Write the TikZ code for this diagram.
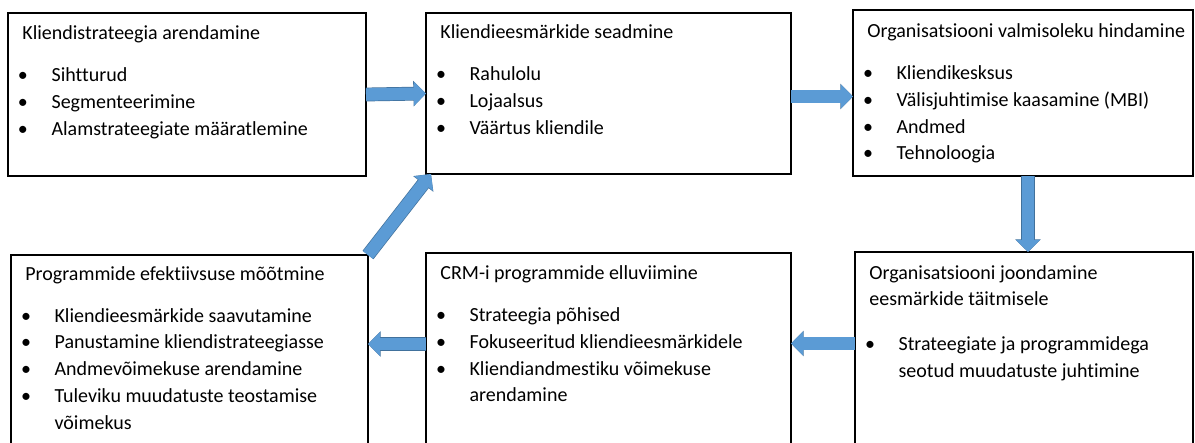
\documentclass[tikz,border=0pt]{standalone}
\usepackage{fontspec}
\setmainfont{Carlito}[Ligatures=NoCommon]
\usetikzlibrary{arrows.meta}
\definecolor{arrowblue}{HTML}{5B9BD5}
\definecolor{arrowedge}{HTML}{41719C}

% bullet with a fixed indent, and the matching indent for wrapped lines
\newcommand{\bul}{\makebox[14.6pt][l]{\hspace{-2.2pt}\textbullet}}
\newcommand{\hang}{\hspace*{14.6pt}}
\newcommand{\boxbody}[1]{\parbox[t]{200pt}{\raggedright #1}}

\begin{document}
\begin{tikzpicture}[x=0.5pt,y=-0.5pt,
  box/.style={draw=black, line width=0.6pt, anchor=north west,
              inner sep=0pt, outer sep=0pt},
  boxtext/.style={anchor=base west, inner sep=0pt,
                  font=\fontsize{10}{13.4}\selectfont},
  flow/.style={line width=6.2pt, draw=arrowblue,
               -{Triangle[length=6pt,width=11.5pt]},
               preaction={draw=arrowedge, line width=6.9pt,
                          -{Triangle[length=6.3pt,width=12.4pt]}}}
]
\useasboundingbox (0,0) rectangle (1195,443);
\clip (0,0) rectangle (1195,443);
\fill[white] (0,0) rectangle (1195,443);

% stage boxes
\node[box, minimum width=179pt,   minimum height=81.5pt] (b1) at (8,13)    {};
\node[box, minimum width=182.5pt, minimum height=80.5pt] (b2) at (426,13)  {};
\node[box, minimum width=170pt,   minimum height=83pt]   (b3) at (853,10)  {};
\node[box, minimum width=178.5pt, minimum height=99pt]   (b4) at (11,255)  {};
\node[box, minimum width=182.5pt, minimum height=100pt]  (b5) at (426,253) {};
\node[box, minimum width=169pt,   minimum height=100.5pt](b6) at (855,252) {};

% box contents
\node[boxtext] (t1) at ([xshift=7pt,yshift=-13.3pt]b1.north west) {\boxbody{%
  Kliendistrateegia arendamine\\[7.6pt]
  \bul Sihtturud\\
  \bul Segmenteerimine\\
  \bul Alamstrateegiate määratlemine}};

\node[boxtext] (t2) at ([xshift=7pt,yshift=-12.8pt]b2.north west) {\boxbody{%
  Kliendieesmärkide seadmine\\[7.6pt]
  \bul Rahulolu\\
  \bul Lojaalsus\\
  \bul Väärtus kliendile}};

\node[boxtext] (t3) at ([xshift=7pt,yshift=-13.8pt]b3.north west) {\boxbody{%
  Organisatsiooni valmisoleku hindamine\\[7.6pt]
  \bul Kliendikesksus\\
  \bul Välisjuhtimise kaasamine (MBI)\\
  \bul Andmed\\
  \bul Tehnoloogia}};

\node[boxtext] (t4) at ([xshift=7pt,yshift=-12.6pt]b4.north west) {\boxbody{%
  Programmide efektiivsuse mõõtmine\\[7.6pt]
  \bul Kliendieesmärkide saavutamine\\
  \bul Panustamine kliendistrateegiasse\\
  \bul Andmevõimekuse arendamine\\
  \bul Tuleviku muudatuste teostamise\\
  \hang võimekus}};

\node[boxtext] (t5) at ([xshift=7pt,yshift=-13.3pt]b5.north west) {\boxbody{%
  CRM-i programmide elluviimine\\[7.6pt]
  \bul Strateegia põhised\\
  \bul Fokuseeritud kliendieesmärkidele\\
  \bul Kliendiandmestiku võimekuse\\
  \hang arendamine}};

\node[boxtext] (t6) at ([xshift=7pt,yshift=-13.6pt]b6.north west) {\boxbody{%
  Organisatsiooni joondamine\\
  eesmärkide täitmisele\\[9pt]
  \bul Strateegiate ja programmidega\\
  \hang seotud muudatuste juhtimine}};

% process flow
\draw[flow] (b1.east) -- (b2.west);
\draw[flow] ([yshift=-1.5pt]b2.east) -- ([yshift=-1.5pt]b2.east -| b3.west);
\draw[flow] ([xshift=2.5pt]b3.south) -- ([xshift=2.5pt]b3.south |- b6.north);
\draw[flow] ([yshift=4.5pt]b6.west) -- ([yshift=4.5pt]b6.west -| b5.east);
\draw[flow] ([yshift=4.5pt]b5.west) -- ([yshift=4.5pt]b5.west -| b4.east);
\draw[flow] (b4.north east) -- ([xshift=2.5pt]b2.south west);
\end{tikzpicture}
\end{document}
